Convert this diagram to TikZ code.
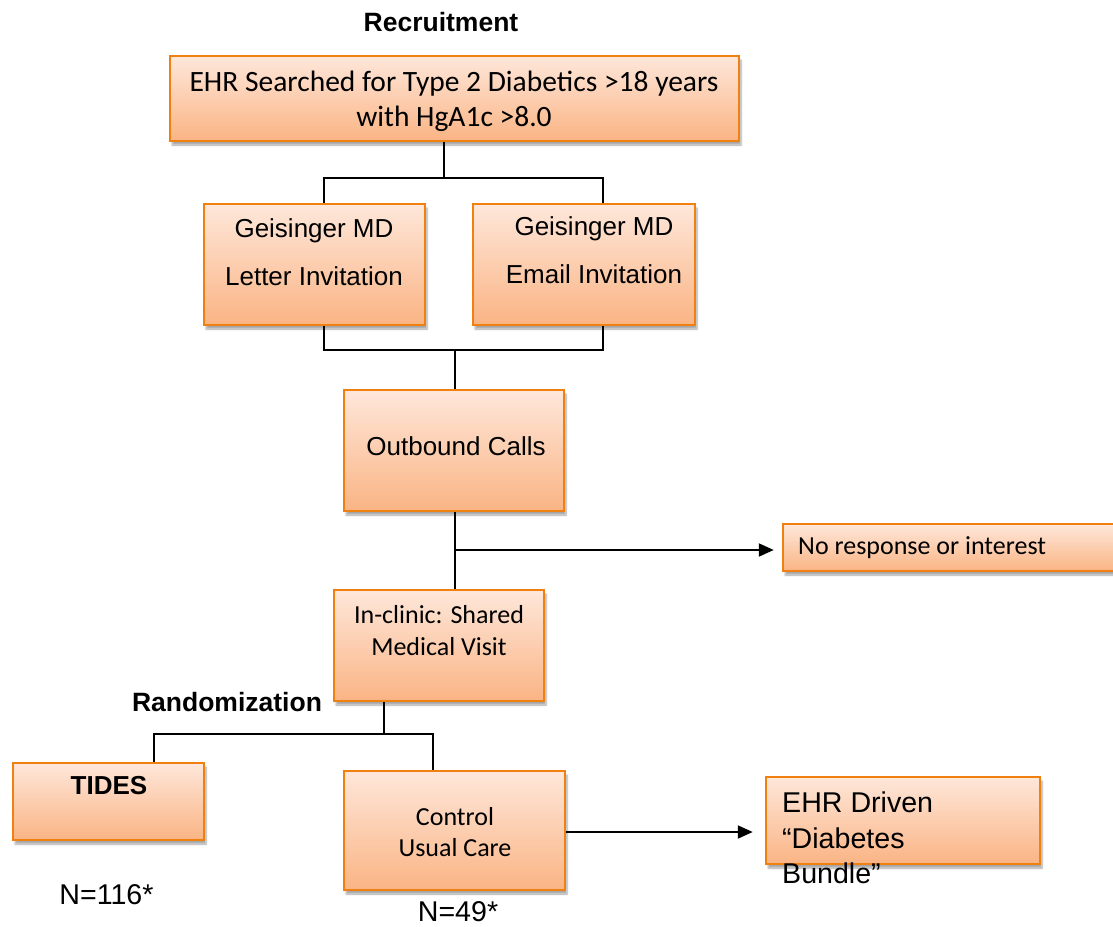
\documentclass[tikz,border=0pt]{standalone}
\usepackage{fontspec}
\setmainfont{Carlito}
\newfontfamily\arialfont{Liberation Sans}
\usetikzlibrary{arrows.meta, shadows.blur}
\definecolor{boxline}{RGB}{240,128,16}
\definecolor{boxtop}{RGB}{254,231,218}
\definecolor{boxbottom}{RGB}{250,180,132}
\tikzstyle{box} = [draw=boxline, line width=2.5pt, inner sep=0pt, top color=boxtop, bottom color=boxbottom, blur shadow={shadow xshift=2pt, shadow yshift=-4pt, shadow opacity=35, shadow blur steps=6}]
\tikzstyle{link} = [line width=2pt]
\tikzstyle{arrow} = [line width=2pt, -{Triangle[length=15pt,width=13pt]}]
\tikzstyle{calib} = [align=center, inner sep=0pt, font=\fontsize{26}{32}\selectfont]
\tikzstyle{arial} = [align=center, inner sep=0pt, font=\arialfont\fontsize{26}{48}\selectfont]
\tikzstyle{count} = [inner sep=0pt, font=\arialfont\fontsize{28.6}{34}\selectfont]
\tikzstyle{heading} = [inner sep=0pt, font=\arialfont\bfseries\fontsize{26.5}{30}\selectfont]

\begin{document}
\begin{tikzpicture}[x=1pt, y=-1pt]
    \useasboundingbox (0,0) rectangle (1113,926);

    % Boxes
    \node[box, minimum width=569pt, minimum height=85pt] (search) at (454.5,98.5) {};
    \node[box, minimum width=221pt, minimum height=121pt] (letter) at (314.5,264.5) {};
    \node[box, minimum width=222pt, minimum height=121pt] (email) at (584,264.5) {};
    \node[box, minimum width=220pt, minimum height=121pt] (calls) at (454,450.5) {};
    \node[box, minimum width=342pt, minimum height=47pt] (noresp) at (954,547.5) {};
    \node[box, minimum width=210pt, minimum height=111pt] (clinic) at (439,645.5) {};
    \node[box, minimum width=191pt, minimum height=77pt] (tides) at (108.5,801.5) {};
    \node[box, minimum width=221pt, minimum height=119pt] (control) at (454.5,830.5) {};
    \node[box, minimum width=274pt, minimum height=87pt] (bundle) at (903,820.5) {};

    % Texts
    \node[heading] (recruit) at (441,22) {Recruitment};
    \node[calib, font=\fontsize{29.5}{35}\selectfont] (searchtxt) at (454,101.5) {EHR Searched for Type 2 Diabetics >18 years\\with HgA1c >8.0};
    \node[arial] (lettertxt) at (314,252) {Geisinger MD\\Letter Invitation};
    \node[arial] (emailtxt) at (594,250) {Geisinger MD\\Email Invitation};
    \node[arial] (callstxt) at (456,446) {Outbound Calls};
    \node[calib, anchor=west] (noresptxt) at (798,548) {No response or interest};
    \node[calib] (clinictxt) at (439,631) {In-clinic: Shared\\Medical Visit};
    \node[heading] (random) at (227,702) {Randomization};
    \node[heading, font=\arialfont\bfseries\fontsize{26}{30}\selectfont] (tidestxt) at (109,786) {TIDES};
    \node[calib, font=\fontsize{26}{31}\selectfont] (controltxt) at (455,832.5) {Control\\Usual Care};
    \node[count, align=left, anchor=west, font=\arialfont\fontsize{28.6}{35.5}\selectfont] (bundletxt) at (782,838) {EHR Driven\\“Diabetes\\Bundle”};
    \node[count] (ntides) at (106.5,895) {N=116*};
    \node[count] (ncontrol) at (458,911.5) {N=49*};

    % Junctions
    \coordinate (j1) at (444,178);
    \coordinate (j1l) at (324,178);
    \coordinate (j1r) at (603,178);
    \coordinate (j2) at (455,350);
    \coordinate (j2l) at (324,350);
    \coordinate (j2r) at (603,350);
    \coordinate (j3) at (455,550);
    \coordinate (j4) at (384,734);
    \coordinate (j4l) at (154,734);
    \coordinate (j4r) at (433,734);

    % Connectors
    \draw[link] (search.south -| j1) -- (j1);
    \draw[link] (letter.north -| j1l) -- (j1l) -- (j1r) -- (email.north -| j1r);
    \draw[link] (letter.south -| j2l) -- (j2l) -- (j2r) -- (email.south -| j2r);
    \draw[link] (j2) -- (calls.north -| j2);
    \draw[link] (calls.south -| j3) -- (clinic.north -| j3);
    \draw[arrow, shorten >=8pt] (j3) -- (j3 -| noresp.west);
    \draw[link] (clinic.south -| j4) -- (j4);
    \draw[link] (tides.north -| j4l) -- (j4l) -- (j4r) -- (control.north -| j4r);
    \draw[arrow, shorten >=12pt] (control.east |- 0,832) -- (bundle.west |- 0,832);
\end{tikzpicture}
\end{document}
